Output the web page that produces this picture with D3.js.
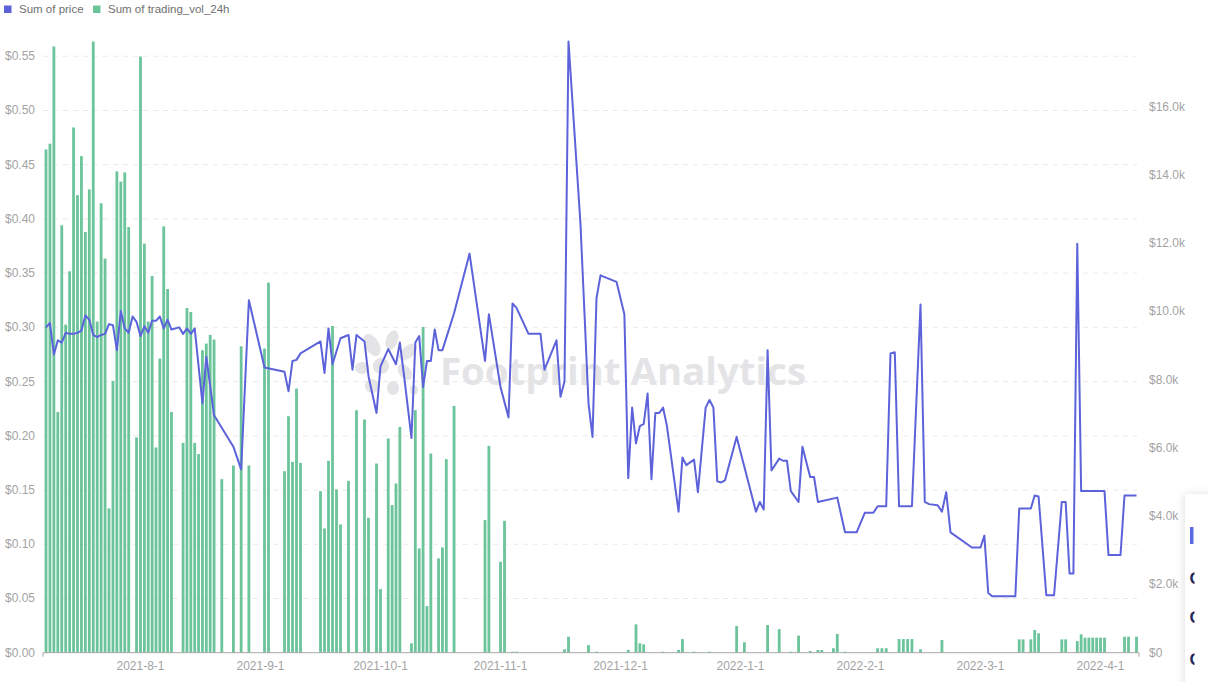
<!DOCTYPE html>
<html><head><meta charset="utf-8">
<script src="https://cdn.jsdelivr.net/npm/d3@7"></script>
<style>
body{margin:0;background:#fff;}
svg{display:block;font-family:"Liberation Sans",Arial,sans-serif;}
</style>
</head><body>
<svg id="chart" width="1208" height="682"></svg>
<script>
// ---------------- data ----------------
const seriesNames = ["Sum of price", "Sum of trading_vol_24h"];
const monthTickLabels = ["2021-8-1","2021-9-1","2021-10-1","2021-11-1","2021-12-1","2022-1-1","2022-2-1","2022-3-1","2022-4-1"];
const firstDay = "2021-7-8";
const lastDay = "2022-4-10";
const priceTicks = [0,0.05,0.10,0.15,0.20,0.25,0.30,0.35,0.40,0.45,0.50,0.55];
const volumeTicks = [0,2000,4000,6000,8000,10000,12000,14000,16000];

const priceDates = [
"2021-7-8","2021-7-9","2021-7-10","2021-7-11","2021-7-12","2021-7-13","2021-7-14","2021-7-15","2021-7-16","2021-7-17",
"2021-7-18","2021-7-19","2021-7-20","2021-7-21","2021-7-22","2021-7-23","2021-7-24","2021-7-25","2021-7-26","2021-7-27",
"2021-7-28","2021-7-29","2021-7-30","2021-7-31","2021-8-1","2021-8-2","2021-8-3","2021-8-4","2021-8-5","2021-8-6",
"2021-8-7","2021-8-8","2021-8-9","2021-8-11","2021-8-12","2021-8-13","2021-8-14","2021-8-15","2021-8-17","2021-8-18",
"2021-8-20","2021-8-25","2021-8-27","2021-8-29","2021-9-2","2021-9-7","2021-9-8","2021-9-9","2021-9-10","2021-9-11",
"2021-9-16","2021-9-17","2021-9-18","2021-9-19","2021-9-21","2021-9-23","2021-9-24","2021-9-25","2021-9-27","2021-9-28",
"2021-9-30","2021-10-1","2021-10-3","2021-10-5","2021-10-6","2021-10-7","2021-10-9","2021-10-10","2021-10-11","2021-10-12",
"2021-10-13","2021-10-14","2021-10-15","2021-10-16","2021-10-17","2021-10-20","2021-10-24","2021-10-28","2021-10-29","2021-11-1",
"2021-11-3","2021-11-4","2021-11-5","2021-11-8","2021-11-11","2021-11-12","2021-11-15","2021-11-16","2021-11-17","2021-11-18",
"2021-11-21","2021-11-23","2021-11-24","2021-11-25","2021-11-26","2021-11-30","2021-12-2","2021-12-3","2021-12-4","2021-12-5",
"2021-12-6","2021-12-7","2021-12-8","2021-12-9","2021-12-10","2021-12-11","2021-12-12","2021-12-13","2021-12-16","2021-12-17",
"2021-12-18","2021-12-20","2021-12-21","2021-12-23","2021-12-24","2021-12-25","2021-12-26","2021-12-27","2021-12-28","2021-12-31",
"2022-1-5","2022-1-6","2022-1-7","2022-1-8","2022-1-9","2022-1-11","2022-1-12","2022-1-13","2022-1-14","2022-1-16",
"2022-1-17","2022-1-19","2022-1-20","2022-1-21","2022-1-26","2022-1-28","2022-1-31","2022-2-2","2022-2-4","2022-2-5",
"2022-2-7","2022-2-8","2022-2-9","2022-2-10","2022-2-13","2022-2-15","2022-2-16","2022-2-17","2022-2-19","2022-2-20",
"2022-2-21","2022-2-22","2022-2-27","2022-3-1","2022-3-2","2022-3-3","2022-3-4","2022-3-10","2022-3-11","2022-3-14",
"2022-3-15","2022-3-16","2022-3-18","2022-3-20","2022-3-22","2022-3-23","2022-3-24","2022-3-25","2022-3-26","2022-3-27",
"2022-4-2","2022-4-3","2022-4-6","2022-4-7","2022-4-10"];
const priceValues = [
0.300,0.304,0.275,0.288,0.286,0.295,0.294,0.294,0.295,0.297,
0.311,0.307,0.293,0.291,0.293,0.294,0.303,0.302,0.279,0.315,
0.299,0.295,0.310,0.305,0.292,0.301,0.295,0.306,0.306,0.310,
0.299,0.307,0.298,0.300,0.294,0.299,0.294,0.299,0.230,0.273,
0.219,0.190,0.169,0.325,0.263,0.259,0.241,0.269,0.270,0.276,
0.287,0.258,0.299,0.266,0.290,0.293,0.261,0.293,0.287,0.255,
0.221,0.264,0.280,0.266,0.286,0.258,0.198,0.286,0.292,0.245,
0.269,0.269,0.298,0.279,0.279,0.313,0.368,0.269,0.312,0.245,
0.217,0.322,0.318,0.294,0.294,0.261,0.288,0.236,0.250,0.5636,
0.395,0.230,0.199,0.327,0.348,0.342,0.312,0.161,0.226,0.193,
0.209,0.211,0.239,0.160,0.221,0.221,0.226,0.209,0.130,0.180,
0.173,0.178,0.148,0.226,0.233,0.226,0.158,0.157,0.159,0.199,
0.130,0.139,0.132,0.279,0.168,0.179,0.177,0.177,0.149,0.139,
0.190,0.162,0.162,0.139,0.143,0.111,0.111,0.129,0.129,0.135,
0.135,0.276,0.277,0.135,0.135,0.321,0.139,0.137,0.136,0.130,
0.148,0.111,0.097,0.097,0.108,0.055,0.052,0.052,0.133,0.133,
0.145,0.144,0.053,0.053,0.139,0.139,0.073,0.073,0.377,0.149,
0.149,0.090,0.090,0.145,0.145];

const volumeDates = [
"2021-7-8","2021-7-9","2021-7-10","2021-7-11","2021-7-12","2021-7-13","2021-7-14","2021-7-15","2021-7-16","2021-7-17",
"2021-7-18","2021-7-19","2021-7-20","2021-7-21","2021-7-22","2021-7-23","2021-7-24","2021-7-25","2021-7-26","2021-7-27",
"2021-7-28","2021-7-29","2021-7-31","2021-8-1","2021-8-2","2021-8-3","2021-8-4","2021-8-5","2021-8-6","2021-8-7",
"2021-8-8","2021-8-9","2021-8-12","2021-8-13","2021-8-14","2021-8-15","2021-8-16","2021-8-17","2021-8-18","2021-8-19",
"2021-8-20","2021-8-22","2021-8-25","2021-8-27","2021-8-29","2021-9-2","2021-9-3","2021-9-7","2021-9-8","2021-9-9",
"2021-9-10","2021-9-11","2021-9-16","2021-9-17","2021-9-18","2021-9-19","2021-9-20","2021-9-21","2021-9-23","2021-9-25",
"2021-9-27","2021-9-28","2021-9-30","2021-10-1","2021-10-3","2021-10-4","2021-10-5","2021-10-6","2021-10-9","2021-10-10",
"2021-10-11","2021-10-12","2021-10-13","2021-10-14","2021-10-16","2021-10-17","2021-10-18","2021-10-20","2021-10-28","2021-10-29",
"2021-11-1","2021-11-2","2021-11-4","2021-11-5","2021-11-17","2021-11-18","2021-11-23","2021-11-25","2021-12-3","2021-12-5",
"2021-12-6","2021-12-7","2021-12-12","2021-12-16","2021-12-17","2021-12-20","2021-12-24","2021-12-31","2022-1-2","2022-1-8",
"2022-1-11","2022-1-14","2022-1-16","2022-1-19","2022-1-21","2022-1-22","2022-1-25","2022-1-26","2022-1-28","2022-2-5",
"2022-2-6","2022-2-7","2022-2-10","2022-2-11","2022-2-12","2022-2-13","2022-2-15","2022-2-20","2022-3-11","2022-3-12",
"2022-3-14","2022-3-15","2022-3-16","2022-3-22","2022-3-23","2022-3-26","2022-3-27","2022-3-28","2022-3-29","2022-3-30",
"2022-3-31","2022-4-1","2022-4-2","2022-4-7","2022-4-8","2022-4-10"];
const volumeValues = [
14743,14911,17758,7054,12519,9612,11172,15387,13406,14547,
12323,13573,17905,9700,13163,11544,4226,7962,14099,13798,
14070,12469,6305,17466,11983,9700,11035,6012,8617,12490,
10654,7054,6147,10098,9981,6147,5816,8860,9056,9308,
9173,5084,5485,8977,5485,8910,10842,5318,6928,5591,
7739,5560,4733,3641,5620,9571,4783,3758,5034,7104,
6831,3952,5543,1864,6275,4323,4958,6615,275,7104,
3056,9542,1367,5836,2763,3085,5670,7230,3884,6059,
2664,3864,30,30,100,468,225,30,80,830,
275,245,30,80,400,30,30,780,305,810,
690,30,500,50,80,80,130,550,30,130,
130,130,400,400,400,400,100,370,390,390,
390,665,568,390,390,342,538,440,440,440,
440,440,440,470,470,470];

// ---------------- layout ----------------
const W = 1208, H = 682;
const plot = {left: 43, right: 1139, top: 41.5, bottom: 652.7};
const firstTickX = 140.5, monthStep = 120;
const colors = {price: "#5c63da", volume: "#6cc49b", axisText: "#a3a3a3", grid: "#e9e9e9", axis: "#a8a8a8", legendText: "#707070"};

const parse = d3.timeParse("%Y-%m-%d");
const fmtTick = d3.timeFormat("%Y-%-m-%-d");
const tickDates = monthTickLabels.map(parse);
const d0 = parse(firstDay), d1 = parse(lastDay);

// evenly spaced month ticks (as in the reference), polylinear time scale
const rangeTicks = tickDates.map((d, i) => firstTickX + i * monthStep);
const x = d3.scaleTime()
  .domain([d0, ...tickDates, d1])
  .range([46, ...rangeTicks, plot.right - 2.5]);

const yPrice = d3.scaleLinear().domain([0, d3.max(priceValues)]).range([plot.bottom, plot.top]);
const yVol = d3.scaleLinear().domain([0, d3.max(volumeValues)]).range([plot.bottom, plot.top]);

const svg = d3.select("#chart");
svg.append("rect").attr("width", W).attr("height", H).attr("fill", "#fff");

// grid
svg.append("g").selectAll("line").data(priceTicks.filter(t => t > 0)).join("line")
  .attr("x1", plot.left).attr("x2", plot.right - 2)
  .attr("y1", d => yPrice(d)).attr("y2", d => yPrice(d))
  .attr("stroke", colors.grid).attr("stroke-width", 1).attr("stroke-dasharray", "5,5");

// watermark
const wm = svg.append("g").attr("fill", "#e4e4e6");
[[372,345,7,12,-30],[392,340,6,10,20],[408,352,6,11,50],[362,368,7,6,0],[381,366,8,8,0],[405,372,6,9,-40],[372,386,7,7,20],[393,388,6,7,0],[414,390,4,5,0]]
  .forEach(([cx, cy, rx, ry, rot]) => wm.append("ellipse").attr("cx", cx).attr("cy", cy).attr("rx", rx).attr("ry", ry)
    .attr("transform", `rotate(${rot},${cx},${cy})`));
wm.append("text").attr("x", 440).attr("y", 385).attr("font-size", 37).attr("font-weight", "bold")
  .attr("font-family", "'Open Sans','Liberation Sans',Arial,sans-serif")
  .attr("textLength", 366).attr("lengthAdjust", "spacingAndGlyphs").text("Footprint Analytics");

// bars
const volData = volumeDates.map((d, i) => ({date: parse(d), v: volumeValues[i]}));
const barW = 2.8;
svg.append("g").selectAll("rect").data(volData).join("rect")
  .attr("x", d => x(d.date) - barW / 2).attr("width", barW)
  .attr("y", d => yVol(d.v)).attr("height", d => plot.bottom - yVol(d.v))
  .attr("fill", colors.volume);

// axis line
svg.append("line").attr("x1", plot.left).attr("x2", plot.right).attr("y1", plot.bottom).attr("y2", plot.bottom)
  .attr("stroke", colors.axis).attr("stroke-width", 1);
[plot.left, plot.right].forEach(xx => svg.append("line").attr("x1", xx).attr("x2", xx)
  .attr("y1", plot.bottom).attr("y2", plot.bottom + 4).attr("stroke", colors.axis));

// price line
const priceData = priceDates.map((d, i) => ({date: parse(d), v: priceValues[i]}));
svg.append("path").datum(priceData)
  .attr("d", d3.line().x(d => x(d.date)).y(d => yPrice(d.v)))
  .attr("fill", "none").attr("stroke", colors.price).attr("stroke-width", 2).attr("stroke-linejoin", "round");

// axes labels
svg.append("g").selectAll("text").data(priceTicks).join("text")
  .attr("x", 35).attr("y", d => yPrice(d) + 4).attr("text-anchor", "end")
  .attr("font-size", 12).attr("fill", colors.axisText).text(d => "$" + d.toFixed(2));
svg.append("g").selectAll("text").data(volumeTicks).join("text")
  .attr("x", 1149).attr("y", d => yVol(d) + 4).attr("text-anchor", "start")
  .attr("font-size", 12).attr("fill", colors.axisText).text(d => d === 0 ? "$0" : "$" + (d / 1000).toFixed(1) + "k");
svg.append("g").selectAll("text").data(tickDates).join("text")
  .attr("x", d => x(d)).attr("y", 670).attr("text-anchor", "middle")
  .attr("font-size", 12).attr("fill", colors.axisText).text(d => fmtTick(d));

// legend
const lg = svg.append("g");
lg.append("rect").attr("x", 4).attr("y", 5.5).attr("width", 7.5).attr("height", 7.5).attr("fill", colors.price);
lg.append("text").attr("x", 19).attr("y", 13).attr("font-size", 11.5).attr("fill", colors.legendText).text(seriesNames[0]);
lg.append("rect").attr("x", 93).attr("y", 5.5).attr("width", 7.5).attr("height", 7.5).attr("fill", colors.volume);
lg.append("text").attr("x", 108).attr("y", 13).attr("font-size", 11.5).attr("fill", colors.legendText).text(seriesNames[1]);

// clipped floating widget at the bottom-right edge
const defs = svg.append("defs");
const f = defs.append("filter").attr("id", "sh").attr("x", "-50%").attr("y", "-20%").attr("width", "200%").attr("height", "140%");
f.append("feDropShadow").attr("dx", -1).attr("dy", 0).attr("stdDeviation", 4).attr("flood-color", "#000").attr("flood-opacity", 0.12);
defs.append("clipPath").attr("id", "wclip").append("rect").attr("x", 1185).attr("y", 494).attr("width", 9.5).attr("height", 200);
svg.append("rect").attr("x", 1185).attr("y", 494).attr("width", 40).attr("height", 200).attr("fill", "#fff").attr("filter", "url(#sh)");
const wg = svg.append("g").attr("clip-path", "url(#wclip)");
wg.append("rect").attr("x", 1190).attr("y", 527).attr("width", 3.5).attr("height", 17).attr("fill", "#5c6bdf");
["O","O","O"].forEach((c, i) => wg.append("text").attr("x", 1189.5).attr("y", [584, 623, 665][i])
  .attr("font-size", 17).attr("font-weight", "bold").attr("fill", "#1d2a5e").text(c));
</script>
</body></html>
